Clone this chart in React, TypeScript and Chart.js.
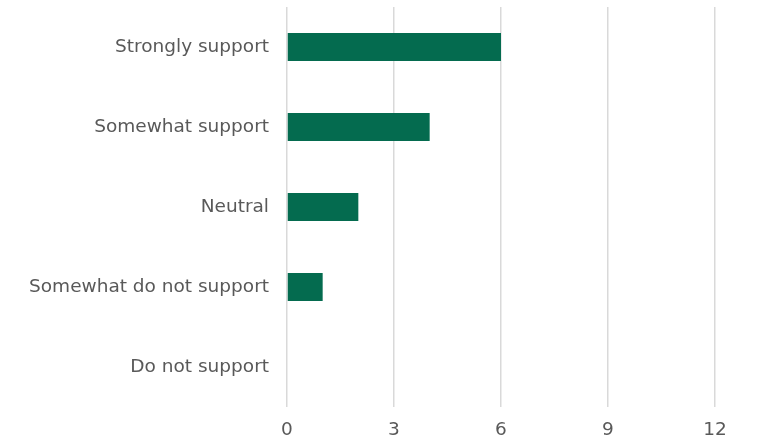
import React, { useEffect, useRef } from "react";
import { Chart, registerables } from "chart.js";

Chart.register(...registerables);

const categories = [
  "Strongly support",
  "Somewhat support",
  "Neutral",
  "Somewhat do not support",
  "Do not support",
];
const values = [6, 4, 2, 1, 0];
const xTicks = [0, 3, 6, 9, 12];

export default function App() {
  const ref = useRef<HTMLCanvasElement>(null);
  useEffect(() => {
    document.body.style.margin = "0";
    const font = { family: "DejaVu Sans", size: 18.5 };
    const chart = new Chart(ref.current!, {
      type: "bar",
      data: {
        labels: categories,
        datasets: [
          {
            data: values,
            backgroundColor: "#046b4f",
            barPercentage: 0.35,
            categoryPercentage: 1,
          },
        ],
      },
      options: {
        indexAxis: "y",
        animation: false,
        responsive: false,
        maintainAspectRatio: false,
        layout: { padding: { top: 7, right: 45, bottom: 0, left: 0 } },
        plugins: { legend: { display: false }, tooltip: { enabled: false } },
        scales: {
          x: {
            min: 0,
            max: 12,
            afterBuildTicks: (s: any) => {
              s.ticks = xTicks.map((v) => ({ value: v }));
            },
            afterFit: (s: any) => {
              s.height = 35;
              s.paddingLeft = 0;
              s.paddingRight = 0;
            },
            grid: { color: "#d9d9d9", lineWidth: 1.5, drawTicks: false },
            border: { display: false },
            ticks: { color: "#595959", font, padding: 12 },
          },
          y: {
            afterFit: (s: any) => {
              s.width = 287;
              s.paddingTop = 0;
              s.paddingBottom = 0;
            },
            grid: { display: false, drawTicks: false },
            border: { display: false },
            ticks: { color: "#595959", font, padding: 18 },
          },
        },
      },
    });
    return () => chart.destroy();
  }, []);
  return (
    <div style={{ width: 760, height: 442, overflow: "hidden" }}>
      <canvas ref={ref} width={760} height={442} style={{ display: "block" }} />
    </div>
  );
}
